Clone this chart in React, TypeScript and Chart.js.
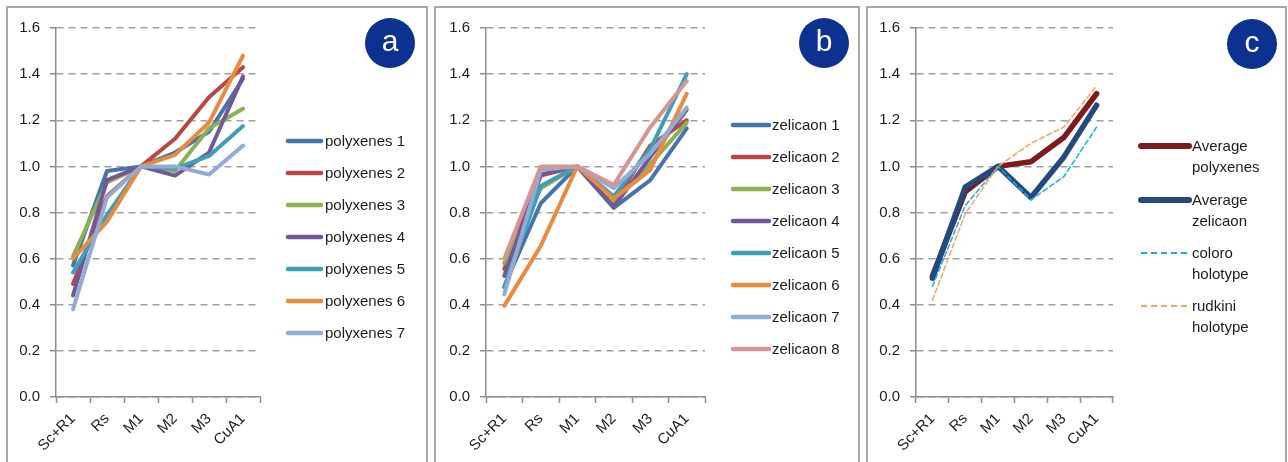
import React, { useEffect, useRef } from 'react';
import { Chart, registerables } from 'chart.js';

Chart.register(...registerables);

const categories = ['Sc+R1', 'Rs', 'M1', 'M2', 'M3', 'CuA1'];
const yMin = 0;
const yMax = 1.6;
const yStep = 0.2;

const polyxenes1 = [0.57, 0.98, 1.0, 1.06, 1.15, 1.38];
const polyxenes2 = [0.49, 0.87, 1.0, 1.12, 1.3, 1.43];
const polyxenes3 = [0.61, 0.93, 1.0, 0.98, 1.165, 1.25];
const polyxenes4 = [0.44, 0.94, 1.0, 0.96, 1.06, 1.39];
const polyxenes5 = [0.54, 0.79, 1.0, 0.99, 1.045, 1.175];
const polyxenes6 = [0.6, 0.76, 1.0, 1.05, 1.19, 1.48];
const polyxenes7 = [0.38, 0.865, 1.0, 1.0, 0.965, 1.09];

const zelicaon1 = [0.48, 0.84, 1.0, 0.82, 0.94, 1.165];
const zelicaon2 = [0.555, 0.96, 1.0, 0.84, 1.09, 1.2];
const zelicaon3 = [0.58, 0.905, 1.0, 0.85, 1.01, 1.19];
const zelicaon4 = [0.525, 0.965, 1.0, 0.825, 1.04, 1.245];
const zelicaon5 = [0.475, 0.915, 1.0, 0.87, 1.075, 1.4];
const zelicaon6 = [0.395, 0.655, 1.0, 0.86, 0.985, 1.315];
const zelicaon7 = [0.445, 0.985, 1.0, 0.905, 1.055, 1.255];
const zelicaon8 = [0.6, 1.0, 1.0, 0.92, 1.17, 1.37];

const avgPolyxenes = [0.525, 0.89, 1.0, 1.02, 1.125, 1.315];
const avgZelicaon = [0.515, 0.91, 1.0, 0.865, 1.04, 1.265];
const coloroHolotype = [0.48, 0.83, 1.0, 0.855, 0.955, 1.17];
const rudkiniHolotype = [0.42, 0.795, 1.0, 1.1, 1.17, 1.35];

const FONT = "'Liberation Sans', Arial, sans-serif";
const TEXT = '#1c1c1c';
const AXIS = '#8c8c8c';
const GRID = '#a0a0a0';
const BADGE = '#0c318e';

const C = {
  blue: '#4674ad',
  red: '#b84744',
  green: '#8fb050',
  purple: '#735897',
  teal: '#3e9fb9',
  orange: '#ea8a3e',
  lightBlue: '#93acd4',
  pink: '#d69592',
  darkRed: '#7c1a1d',
  darkBlue: '#23497d',
  cyan: '#14adf0',
  lightOrange: '#f7a25e',
};

type DS = { label: string[]; data: number[]; color: string; width: number; dash?: number[] };

const panelA: DS[] = [
  { label: ['polyxenes 1'], data: polyxenes1, color: C.blue, width: 4 },
  { label: ['polyxenes 2'], data: polyxenes2, color: C.red, width: 4 },
  { label: ['polyxenes 3'], data: polyxenes3, color: C.green, width: 4 },
  { label: ['polyxenes 4'], data: polyxenes4, color: C.purple, width: 4 },
  { label: ['polyxenes 5'], data: polyxenes5, color: C.teal, width: 4 },
  { label: ['polyxenes 6'], data: polyxenes6, color: C.orange, width: 4 },
  { label: ['polyxenes 7'], data: polyxenes7, color: C.lightBlue, width: 4 },
];

const panelB: DS[] = [
  { label: ['zelicaon 1'], data: zelicaon1, color: C.blue, width: 4 },
  { label: ['zelicaon 2'], data: zelicaon2, color: C.red, width: 4 },
  { label: ['zelicaon 3'], data: zelicaon3, color: C.green, width: 4 },
  { label: ['zelicaon 4'], data: zelicaon4, color: C.purple, width: 4 },
  { label: ['zelicaon 5'], data: zelicaon5, color: C.teal, width: 4 },
  { label: ['zelicaon 6'], data: zelicaon6, color: C.orange, width: 4 },
  { label: ['zelicaon 7'], data: zelicaon7, color: C.lightBlue, width: 4 },
  { label: ['zelicaon 8'], data: zelicaon8, color: C.pink, width: 4 },
];

const panelC: DS[] = [
  { label: ['Average', 'polyxenes'], data: avgPolyxenes, color: C.darkRed, width: 5.5 },
  { label: ['Average', 'zelicaon'], data: avgZelicaon, color: C.darkBlue, width: 5.5 },
  { label: ['coloro', 'holotype'], data: coloroHolotype, color: C.cyan, width: 1.5, dash: [5, 3] },
  { label: ['rudkini', 'holotype'], data: rudkiniHolotype, color: C.lightOrange, width: 1.5, dash: [5, 3] },
];

const CANVAS_H = 462;
const PLOT_TOP = 28;
const PLOT_BOTTOM = 397;

function LineChart(props: { left: number; axisX: number; plotRight: number; datasets: DS[] }) {
  const { left, axisX, plotRight, datasets } = props;
  const ref = useRef<HTMLCanvasElement>(null);
  const width = plotRight - left + 30;
  useEffect(() => {
    const font = { family: FONT, size: 15 };
    const chart = new Chart(ref.current as HTMLCanvasElement, {
      type: 'line',
      data: {
        labels: categories,
        datasets: datasets.map((d, i) => ({
          label: d.label.join(' '),
          data: d.data,
          borderColor: d.color,
          backgroundColor: d.color,
          borderWidth: d.width,
          borderDash: d.dash || [],
          pointRadius: 0,
          pointHoverRadius: 0,
          tension: 0,
          fill: false,
          borderCapStyle: 'round',
          borderJoinStyle: 'round',
          order: datasets.length - i,
        })),
      },
      options: {
        responsive: false,
        animation: false,
        devicePixelRatio: 1,
        events: [],
        layout: { padding: { left: 0, right: 30, top: PLOT_TOP, bottom: 0 } },
        plugins: { legend: { display: false }, tooltip: { enabled: false } },
        scales: {
          x: {
            offset: true,
            grid: {
              offset: true,
              drawOnChartArea: false,
              drawTicks: true,
              tickLength: 6,
              tickColor: AXIS,
              tickWidth: 1.5,
            },
            border: { color: AXIS, width: 1.5 },
            ticks: {
              autoSkip: false,
              maxRotation: 45,
              minRotation: 45,
              padding: 7,
              color: TEXT,
              font,
            },
            afterFit: (s: any) => {
              s.height = CANVAS_H - PLOT_BOTTOM;
            },
          },
          y: {
            min: yMin,
            max: yMax,
            ticks: {
              stepSize: yStep,
              padding: 10,
              color: TEXT,
              font,
              callback: (v: any) => Number(v).toFixed(1),
            },
            grid: {
              color: GRID,
              lineWidth: 1.5,
              drawTicks: true,
              tickLength: 6,
              tickColor: AXIS,
              tickWidth: 1.5,
              tickBorderDash: [],
            },
            border: { color: AXIS, width: 1.5, dash: [7, 5] },
            afterFit: (s: any) => {
              s.width = axisX - left;
            },
          },
        },
      } as any,
    });
    return () => chart.destroy();
  }, []);
  return (
    <canvas
      ref={ref}
      width={width}
      height={CANVAS_H}
      style={{ position: 'absolute', left, top: 0, width, height: CANVAS_H }}
    />
  );
}

function Legend(props: {
  items: DS[];
  x1: number;
  x2: number;
  textX: number;
  rows: number[];
}) {
  const { items, x1, x2, textX, rows } = props;
  return (
    <>
      <svg
        width={1288}
        height={462}
        style={{ position: 'absolute', left: 0, top: 0, pointerEvents: 'none' }}
      >
        {items.map((d, i) => (
          <line
            key={i}
            x1={x1}
            x2={x2}
            y1={rows[i]}
            y2={rows[i]}
            stroke={d.color}
            strokeWidth={d.dash ? 1.8 : d.width + 0.5}
            strokeDasharray={d.dash ? '6 4' : undefined}
            strokeLinecap={d.dash ? 'butt' : 'round'}
          />
        ))}
      </svg>
      {items.map((d, i) =>
        d.label.map((t, j) => (
          <div
            key={i + '-' + j}
            style={{
              position: 'absolute',
              left: textX,
              top: rows[i] + j * 21 - 10,
              height: 20,
              lineHeight: '20px',
              fontSize: 15,
              fontFamily: FONT,
              color: TEXT,
              whiteSpace: 'nowrap',
            }}
          >
            {t}
          </div>
        ))
      )}
    </>
  );
}

function Badge(props: { cx: number; cy: number; letter: string }) {
  const { cx, cy, letter } = props;
  return (
    <div
      style={{
        position: 'absolute',
        left: cx - 25,
        top: cy - 25,
        width: 50,
        height: 50,
        borderRadius: '50%',
        background: BADGE,
        color: '#ffffff',
        fontFamily: FONT,
        fontSize: 30,
        lineHeight: '46px',
        textAlign: 'center',
      }}
    >
      {letter}
    </div>
  );
}

function Frame(props: { left: number; width: number }) {
  return (
    <div
      style={{
        position: 'absolute',
        left: props.left,
        top: 6,
        width: props.width,
        height: 480,
        border: '2px solid #a8a8a8',
        boxSizing: 'border-box',
      }}
    />
  );
}

export default function App() {
  return (
    <div
      style={{
        position: 'absolute',
        left: 0,
        top: 0,
        width: 1288,
        height: 462,
        overflow: 'hidden',
        background: '#ffffff',
      }}
    >
      <Frame left={6} width={422} />
      <Frame left={434} width={426} />
      <Frame left={866} width={421} />
      <LineChart left={0} axisX={56} plotRight={260} datasets={panelA} />
      <LineChart left={430} axisX={486} plotRight={705} datasets={panelB} />
      <LineChart left={860} axisX={916} plotRight={1113} datasets={panelC} />
      <Legend items={panelA} x1={288} x2={321} textX={325} rows={[141, 173, 205, 237, 269, 301, 333]} />
      <Legend items={panelB} x1={733} x2={769} textX={772} rows={[125, 157, 189, 221, 253, 285, 317, 349]} />
      <Legend items={panelC} x1={1141} x2={1189} textX={1192} rows={[146, 200, 253, 306]} />
      <Badge cx={390} cy={43} letter="a" />
      <Badge cx={824} cy={43} letter="b" />
      <Badge cx={1252} cy={44} letter="c" />
    </div>
  );
}
